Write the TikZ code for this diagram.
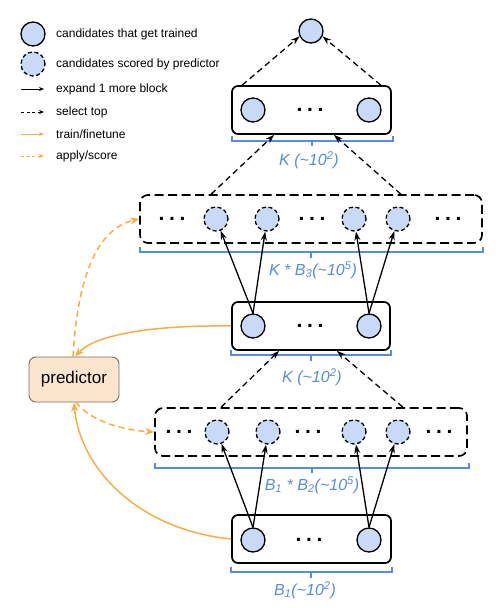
\documentclass[tikz,border=0pt]{standalone}
\usepackage{fontspec}
\setmainfont{Liberation Sans}
\usetikzlibrary{arrows.meta,calc}
\definecolor{cfill}{RGB}{201,218,248}
\definecolor{bblue}{RGB}{88,140,222}
\definecolor{orng}{RGB}{246,174,70}
\definecolor{pfill}{RGB}{252,229,205}
\definecolor{pdraw}{RGB}{120,110,100}
\newcommand{\threedots}{.\hspace{4.6pt}.\hspace{4.6pt}.}
\begin{document}
\begin{tikzpicture}[x=1pt,y=-1pt,
 cand/.style={circle,draw,line width=1.3pt,fill=cfill,minimum size=24pt,inner sep=0pt},
 scored/.style={cand,dash pattern=on 4pt off 2.6pt},
 blk/.style={draw,line width=1.7pt,rounded corners=6pt,minimum width=#1,minimum height=48pt,inner sep=0pt},
 sblk/.style={blk=#1,dash pattern=on 9pt off 4.5pt,rounded corners=8pt},
 expand/.style={line width=1.3pt,-{Stealth[length=9pt,width=6pt]}},
 selarr/.style={expand,dash pattern=on 6pt off 4pt},
 trainarr/.style={line width=1.5pt,draw=orng,-{Stealth[length=9pt,width=7pt]}},
 applyarr/.style={trainarr,dash pattern=on 6pt off 4pt},
 legexp/.style={line width=1pt,-{Stealth[length=5pt,width=4pt]}},
 legsel/.style={legexp,dash pattern=on 3pt off 2.5pt},
 legtrain/.style={line width=1pt,draw=orng,-{Stealth[length=5pt,width=4pt]}},
 legapply/.style={legtrain,dash pattern=on 3pt off 2.5pt},
 bracepath/.style={draw=bblue,line width=1.3pt},
 blab/.style={text=bblue,font=\fontsize{16}{19}\selectfont\itshape,inner sep=0pt},
 leg/.style={anchor=west,font=\fontsize{12}{14}\selectfont,inner sep=0pt},
 ellip/.style={font=\fontsize{21}{21}\selectfont\bfseries,anchor=base,inner sep=0pt}
]
\fill[white] (0,0) rectangle (501,608);
\useasboundingbox (0,0) rectangle (501,608);

% legend
\node[cand] (lc1) at (33,34) {};
\node[leg] (lt1) at (56,34) {candidates that get trained};
\node[scored] (lc2) at (33,64) {};
\node[leg] (lt2) at (56,64) {candidates scored by predictor};
\coordinate (la1) at (21,89); \coordinate (la2) at (44,89);
\draw[legexp] (la1) -- (la2);
\node[leg] (lt3) at (56,89) {expand 1 more block};
\coordinate (lb1) at (21,112); \coordinate (lb2) at (44,112);
\draw[legsel] (lb1) -- (lb2);
\node[leg] (lt4) at (56,112) {select top};
\coordinate (lcc1) at (21,134); \coordinate (lcc2) at (44,134);
\draw[legtrain] (lcc1) -- (lcc2);
\node[leg] (lt5) at (56,134) {train/finetune};
\coordinate (ld1) at (21,156); \coordinate (ld2) at (44,156);
\draw[legapply] (ld1) -- (ld2);
\node[leg] (lt6) at (56,156) {apply/score};

% top
\node[cand] (top) at (311,31) {};
\node[blk=159pt] (bk2) at (311.5,110) {};
\node[cand] (k21) at (253,110) {};
\node[cand] (k22) at (369,110) {};
\node[ellip] (e21) at (310,111.5) {\threedots};
\draw[bracepath] (232,136) -- (232,141) -- (393,141) -- (393,136) (312,141) -- (312,146);
\node[blab] (lab2) at (309,160) {K (\textasciitilde10\textsuperscript{2})};

% row 3 scored
\node[sblk=342pt] (b3) at (311,219) {};
\node[scored] (s31) at (216,219) {};
\node[scored] (s32) at (267,219) {};
\node[scored] (s33) at (354,219) {};
\node[scored] (s34) at (398,219) {};
\node[ellip] (e31) at (172,220.5) {\threedots};
\node[ellip] (e32) at (312,220.5) {\threedots};
\node[ellip] (e33) at (448,220.5) {\threedots};
\draw[bracepath] (140,247) -- (140,252) -- (483,252) -- (483,247) (311,252) -- (311,258);
\node[blab] (lab3) at (313,270) {K * B\textsubscript{3}(\textasciitilde10\textsuperscript{5})};

% middle K
\node[blk=158pt] (bk1) at (311,326) {};
\node[cand] (k11) at (253,326) {};
\node[cand] (k12) at (369,326) {};
\node[ellip] (e11) at (310,327.5) {\threedots};
\draw[bracepath] (231,350) -- (231,355) -- (391,355) -- (391,350) (311,355) -- (311,361);
\node[blab] (lab1) at (312,377) {K (\textasciitilde10\textsuperscript{2})};

% row 1 scored
\node[sblk=312pt] (b1) at (311,432) {};
\node[scored] (s11) at (217,432) {};
\node[scored] (s12) at (268,432) {};
\node[scored] (s13) at (354,432) {};
\node[scored] (s14) at (398,432) {};
\node[ellip] (e41) at (179,433.5) {\threedots};
\node[ellip] (e42) at (308,433.5) {\threedots};
\node[ellip] (e43) at (439,433.5) {\threedots};
\draw[bracepath] (155,463) -- (155,468) -- (469,468) -- (469,463) (312,468) -- (312,473);
\node[blab] (lab4) at (312,485) {B\textsubscript{1} * B\textsubscript{2}(\textasciitilde10\textsuperscript{5})};

% bottom
\node[blk=159pt] (bb) at (311.5,539) {};
\node[cand] (b01) at (253,540) {};
\node[cand] (b02) at (369,540) {};
\node[ellip] (e01) at (309,541.5) {\threedots};
\draw[bracepath] (231,567) -- (231,572) -- (392,572) -- (392,567) (311,572) -- (311,578);
\node[blab] (lab0) at (305,590) {B\textsubscript{1}(\textasciitilde10\textsuperscript{2})};

% predictor
\node[draw=pdraw,fill=pfill,rounded corners=7pt,minimum width=90pt,minimum height=45pt,
      inner sep=0pt,line width=0.9pt,font=\fontsize{17}{20}\selectfont] (pred) at (74,379.5) {predictor};

% expand arrows
\draw[expand] (b01.north) -- (s11);
\draw[expand] (b01.north) -- (s12);
\draw[expand] (b02.north) -- (s13);
\draw[expand] (b02.north) -- (s14);
\draw[expand] (k11.north) -- (s31);
\draw[expand] (k11.north) -- (s32);
\draw[expand] (k12.north) -- (s33);
\draw[expand] (k12.north) -- (s34);

% select arrows
\draw[selarr] ([xshift=67pt]b1.north west) -- ([xshift=48pt]bk1.south west);
\draw[selarr] ([xshift=-65pt]b1.north east) -- ([xshift=-54pt]bk1.south east);
\draw[selarr] ([xshift=72pt]b3.north west) -- ([xshift=43pt]bk2.south west);
\draw[selarr] ([xshift=-82pt]b3.north east) -- ([xshift=-58pt]bk2.south east);
\draw[selarr] ([xshift=11pt]bk2.north west) -- (top.205);
\draw[selarr] ([xshift=-11pt]bk2.north east) -- (top.-25);

% predictor arrows
\draw[trainarr] (bk1.west) .. controls (150,325) and (95,335) .. ([xshift=1pt]pred.north);
\draw[applyarr] ([xshift=-1pt]pred.north) .. controls (78,270) and (100,228) .. (b3.west);
\draw[applyarr] ([xshift=2pt]pred.south) .. controls (90,420) and (120,430) .. (b1.west);
\draw[trainarr] (bb.west) .. controls (140,530) and (80,470) .. (pred.south);
\end{tikzpicture}
\end{document}
